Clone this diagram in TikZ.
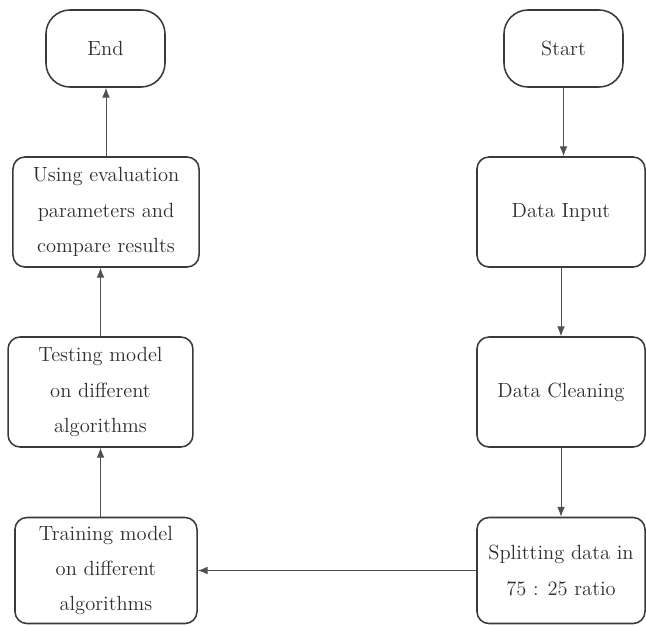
\documentclass[tikz,border=0pt]{standalone}
\usetikzlibrary{positioning, arrows.meta}
\definecolor{EdgeGry}{HTML}{3a3a3a}
\definecolor{LineGry}{HTML}{505050}
\definecolor{TextGry}{HTML}{2e2e2e}

\begin{document}
\begin{tikzpicture}[
  x=0.025cm, y=-0.025cm,
  font=\fontsize{14.6}{25}\selectfont, >={Latex[length=7pt, width=5.5pt]},
  every node/.style={align=center, text=TextGry},
  term/.style = {draw=EdgeGry, rounded corners=0.6cm,
                 minimum width=2.975cm, minimum height=1.925cm, line width=1.1pt},
  proc/.style = {draw=EdgeGry, rounded corners=0.3cm,
                 minimum width=4.6cm, minimum height=2.75cm, line width=1.1pt},
  flow/.style = {->, LineGry, line width=0.7pt},
]
\useasboundingbox (0,0) rectangle (646,626);

% ── Right column: data preparation ───────────────────────────────────────────
\node[term]  (start) at (563.5, 48.5) {Start};
\node[proc, minimum width=4.2cm] (input) at (561, 212) {Data Input};
\node[proc, minimum width=4.2cm] (clean) at (561, 392) {Data Cleaning};
\node[proc, minimum width=4.2cm, minimum height=2.65cm]
  (split) at (561, 570.5) {Splitting data in\\75 : 25 ratio};

% ── Left column: modelling ───────────────────────────────────────────────────
\node[proc, minimum width=4.55cm, minimum height=2.65cm]
  (train) at (106, 570.5) {Training model\\on different\\algorithms};
\node[proc, minimum width=4.62cm] (test)  at (100.5, 392) {Testing model\\on different\\algorithms};
\node[proc, minimum width=4.65cm] (eval)  at (106, 212) {Using evaluation\\parameters and\\compare results};
\node[term]  (end)   at (105.5, 48.5) {End};

% ── Arrows ───────────────────────────────────────────────────────────────────
\draw[flow] (start.south) -- (start.south |- input.north);
\draw[flow] (input) -- (clean);
\draw[flow] (clean) -- (split);
\draw[flow] (split.west) -- (split.west -| train.east);
\draw[flow] (train.north -| test) -- (test.south);
\draw[flow] (test.north) -- (test.north |- eval.south);
\draw[flow] (eval.north) -- (eval.north |- end.south);

\end{tikzpicture}
\end{document}
